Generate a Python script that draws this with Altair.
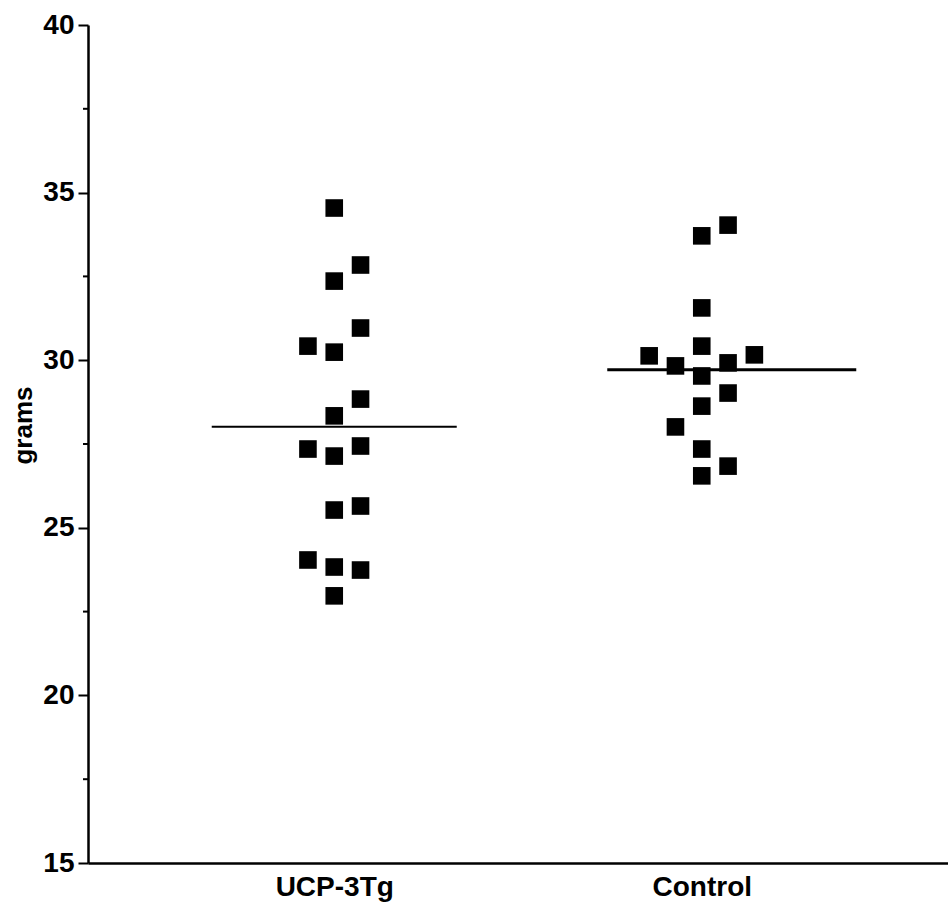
import altair as alt
import pandas as pd

# Body weight (grams) per mouse, by genotype group
groups = ["UCP-3Tg", "Control"]
ucp_grams = [34.54, 32.84, 32.36, 30.96, 30.42, 30.24, 28.84, 28.34, 27.35,
             27.14, 27.44, 25.53, 25.65, 24.04, 23.83, 23.74, 22.97]
ucp_slot = [0, 1, 0, 1, -1, 0, 1, 0, -1, 0, 1, 0, 1, -1, 0, 1, 0]
ctrl_grams = [34.03, 33.71, 31.56, 30.42, 30.13, 30.16, 29.83, 29.92, 29.53,
              29.02, 28.63, 28.01, 27.35, 26.84, 26.55]
ctrl_slot = [1, 0, 0, 0, -2, 2, -1, 1, 0, 1, 0, -1, 0, 1, 0]
major_ticks = [15, 20, 25, 30, 35, 40]
minor_ticks = [17.5, 22.5, 27.5, 32.5, 37.5]

df = pd.DataFrame({
    "group": [groups[0]] * len(ucp_grams) + [groups[1]] * len(ctrl_grams),
    "grams": ucp_grams + ctrl_grams,
    "slot": ucp_slot + ctrl_slot,
})
minor_df = pd.DataFrame({"grams": minor_ticks})

FONT = "Liberation Sans"

x_scale = alt.Scale(type="point", padding=0.67, domain=groups)
x_axis = alt.Axis(title=None, ticks=False, labelAngle=0, labelFont=FONT,
                  labelFontSize=28, labelFontWeight="bold", labelColor="black",
                  labelPadding=10, domainColor="black", domainWidth=2.5,
                  grid=False)
y_scale = alt.Scale(domain=[15, 40], nice=False, zero=False)
y_axis = alt.Axis(values=major_ticks, tickSize=10, tickWidth=2,
                  tickColor="black", domainColor="black", domainWidth=2.5,
                  labelFont=FONT, labelFontSize=28, labelFontWeight="bold",
                  labelColor="black", labelPadding=4, grid=False,
                  titleFont=FONT, titleFontSize=26, titleFontWeight="bold",
                  titleColor="black", titleX=-65, titleY=400,
                  titleAlign="center", titleBaseline="middle", titleAngle=-90)

x_enc = alt.X("group:N", scale=x_scale, axis=x_axis)
y_enc = alt.Y("grams:Q", scale=y_scale, axis=y_axis, title="grams")

points = alt.Chart(df).mark_point(
    shape="square", filled=True, size=310, color="black", opacity=1
).encode(
    x=x_enc,
    y=y_enc,
    xOffset=alt.XOffset("slot:Q", scale=alt.Scale(domain=[-2, 2], range=[-52.6, 52.6])),
)

# Group means drawn as horizontal bars
ucp_mean = alt.Chart(df).transform_filter(
    alt.datum.group == groups[0]
).mark_tick(orient="horizontal", size=245, thickness=2, color="black").encode(
    x=x_enc,
    y=alt.Y("mean(grams):Q", scale=y_scale, axis=y_axis, title="grams"),
)
ctrl_mean = alt.Chart(df).transform_filter(
    alt.datum.group == groups[1]
).mark_tick(orient="horizontal", size=249, thickness=3, color="black",
            xOffset=30).encode(
    x=x_enc,
    y=alt.Y("mean(grams):Q", scale=y_scale, axis=y_axis, title="grams"),
)

# Minor tick marks on the y axis
minor = alt.Chart(minor_df).mark_rule(color="black", strokeWidth=2).encode(
    x=alt.value(-5),
    x2=alt.value(0),
    y=y_enc,
)

chart = alt.layer(minor, ucp_mean, ctrl_mean, points).properties(
    width=860,
    height=838,
    autosize=alt.AutoSizeParams(type="none"),
    padding={"left": 88, "top": 25, "right": 0, "bottom": 46},
    background="white",
).configure_view(stroke=None)

chart.save("out.html", embed_options={"renderer": "svg", "actions": False})
